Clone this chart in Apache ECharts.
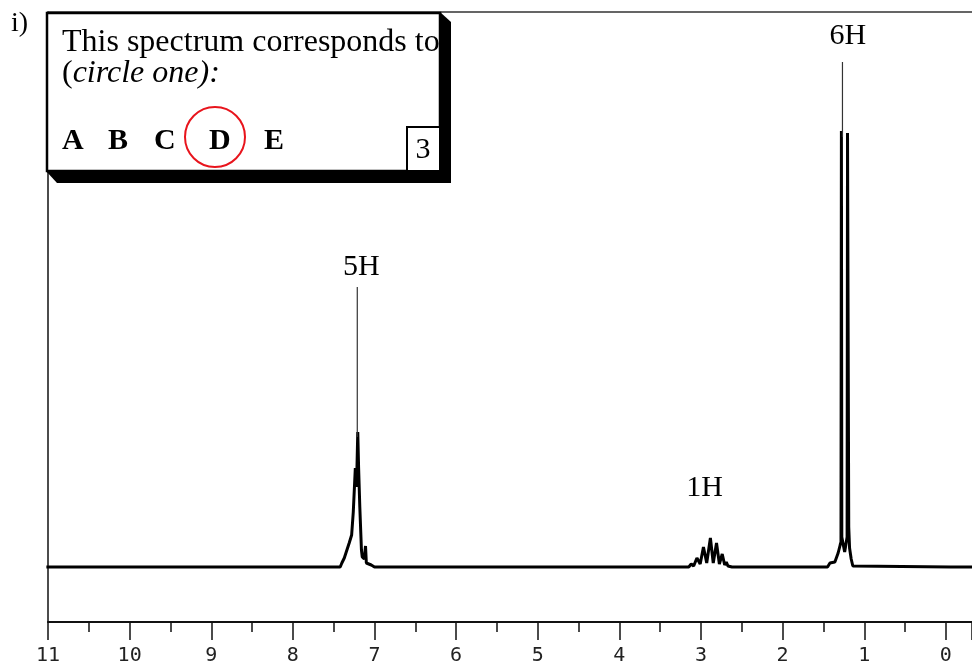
<!DOCTYPE html>
<html>
<head>
<meta charset="utf-8">
<script src="https://cdn.jsdelivr.net/npm/echarts@6/dist/echarts.min.js"></script>
<style>
  html, body { margin: 0; padding: 0; background: #fff; }
  #chart { width: 972px; height: 667px; }
</style>
</head>
<body>
<div id="chart"></div>
<script>
// chemical shift (ppm) and intensity of the thick trace
const shift = [
  11.02, 10.40, 8.70, 8.68, 8.66, 8.00, 7.99, 7.98, 7.42, 7.40, 7.37, 7.31, 7.28, 7.26,
  7.235, 7.22, 7.205, 7.195, 7.18, 7.16, 7.15, 7.125, 7.11, 7.10, 7.04, 7.00,
  4.92, 4.90, 4.88, 3.15, 3.12, 3.09, 3.05, 3.01, 2.97, 2.93, 2.885, 2.85, 2.81,
  2.775, 2.74, 2.71, 2.69, 2.67, 2.65, 2.62, 1.90, 1.88, 1.86, 1.45, 1.42, 1.36,
  1.32, 1.295, 1.285, 1.28, 1.275, 1.24, 1.21, 1.205, 1.195, 1.19, 1.18, 1.16,
  1.14, 1.12, -0.06, -0.08, -0.10, -0.35
];
const intensity = [
  0, 0, 0, 2, 0, 0, 2, 0, 0, 4, 9, 24, 32, 55,
  99, 80, 135, 100, 60, 17, 10, 8, 21, 4, 2, 0,
  0, 2, 0, 0, 3, 1, 9, 3, 20, 4, 29, 4, 24,
  3, 13, 2, 5, 1, 3, 0, 0, 2, 0, 0, 4, 5,
  14, 22, 25, 436, 30, 15, 30, 434, 434, 40, 19, 8,
  1, 0, 0, 2, 0, 0
];

// thin tall tips drawn over the thick trace
const spikeShift = [7.211, 1.267];
const spikeBase = [130, 430];
const spikeTop = [280, 505];

// integration labels above the peaks
const peakLabels = ['5H', '1H', '6H'];
const labelShift = [7.16, 2.955, 1.202];
const labelHeight = [285, 64, 516];

// answer box
const choices = ['A', 'B', 'C', 'D', 'E'];
const questionNo = '3';

const traceData = shift.map((s, i) => [s, intensity[i]]);
const spikeData = [];
spikeShift.forEach((s, i) => {
  spikeData.push([s, spikeBase[i]], [s, spikeTop[i]], '-');
});
const labelData = peakLabels.map((t, i) => ({ value: [labelShift[i], labelHeight[i]], name: t }));

const serif = '"Liberation Serif", "Times New Roman", serif';
const choiceX = [62, 108, 154, 209, 264];

const graphics = [
  { type: 'text', z: 100, x: 11, y: 24,
    style: { text: 'i)', font: '28px ' + serif, fill: '#000', verticalAlign: 'middle' } },
  { type: 'polygon', z: 100,
    shape: { points: [[46, 171], [57, 183], [451, 183], [451, 22], [440, 12]] },
    style: { fill: '#000' } },
  { type: 'rect', z: 101, shape: { x: 47, y: 13, width: 393, height: 158 },
    style: { fill: '#fff', stroke: '#000', lineWidth: 2.5 } },
  { type: 'text', z: 102, x: 62, y: 43,
    style: { text: 'This spectrum corresponds to', font: '32px ' + serif, fill: '#000', verticalAlign: 'middle' } },
  { type: 'text', z: 102, x: 62, y: 74,
    style: {
      text: '({it|circle one):}', font: '32px ' + serif, fill: '#000', verticalAlign: 'middle',
      rich: { it: { fontStyle: 'italic', fontSize: 32, fontFamily: serif, fill: '#000' } }
    } },
  { type: 'rect', z: 102, shape: { x: 407, y: 127, width: 33, height: 44 },
    style: { fill: '#fff', stroke: '#000', lineWidth: 2 } },
  { type: 'text', z: 103, x: 423, y: 150,
    style: { text: questionNo, font: '30px ' + serif, fill: '#000', align: 'center', verticalAlign: 'middle' } },
  { type: 'circle', z: 103, shape: { cx: 215, cy: 137, r: 30 },
    style: { fill: null, stroke: '#e8141c', lineWidth: 2 } }
];
choices.forEach((c, i) => {
  graphics.push({ type: 'text', z: 102, x: choiceX[i], y: 141,
    style: { text: c, font: 'bold 30px ' + serif, fill: '#000', verticalAlign: 'middle' } });
});

const chart = echarts.init(document.getElementById('chart'));
chart.setOption({
  animation: false,
  backgroundColor: '#fff',
  grid: { left: 48, top: 12, right: 0, bottom: 45, show: false },
  xAxis: [
    {
      type: 'value', inverse: true, min: -0.32, max: 11, splitNumber: 11, position: 'bottom',
      axisLine: { show: true, onZero: false, lineStyle: { color: '#111', width: 2 } },
      axisTick: { show: true, inside: false, length: 18, lineStyle: { color: '#111', width: 1.5 } },
      minorTick: { show: true, splitNumber: 2, length: 10, lineStyle: { color: '#111', width: 1.5 } },
      splitLine: { show: false },
      axisLabel: {
        margin: 24, fontFamily: '"DejaVu Sans Mono", monospace', fontSize: 20, color: '#222',
        showMinLabel: false, formatter: v => String(Math.round(v))
      }
    },
    {
      type: 'value', inverse: true, min: -0.32, max: 11, position: 'top',
      axisLine: { show: true, onZero: false, lineStyle: { color: '#333', width: 1.5 } },
      axisTick: { show: false }, axisLabel: { show: false }, splitLine: { show: false }
    }
  ],
  yAxis: {
    type: 'value', min: -55, max: 555, position: 'left',
    axisLine: { show: true, onZero: false, lineStyle: { color: '#111', width: 1.5 } },
    axisTick: { show: false }, axisLabel: { show: false }, splitLine: { show: false }
  },
  series: [
    {
      type: 'line', data: traceData, showSymbol: false, silent: true,
      lineStyle: { color: '#000', width: 3, join: 'bevel' }, z: 3
    },
    {
      type: 'line', data: spikeData, showSymbol: false, silent: true, connectNulls: false,
      lineStyle: { color: '#333', width: 1.2 }, z: 4
    },
    {
      type: 'scatter', data: labelData, symbolSize: 0, silent: true, z: 5,
      itemStyle: { opacity: 1 },
      label: {
        show: true, position: 'top', distance: 0, formatter: p => p.name, opacity: 1,
        fontFamily: serif, fontSize: 30, color: '#000', textBorderWidth: 0
      }
    }
  ],
  graphic: graphics
});
</script>
</body>
</html>
